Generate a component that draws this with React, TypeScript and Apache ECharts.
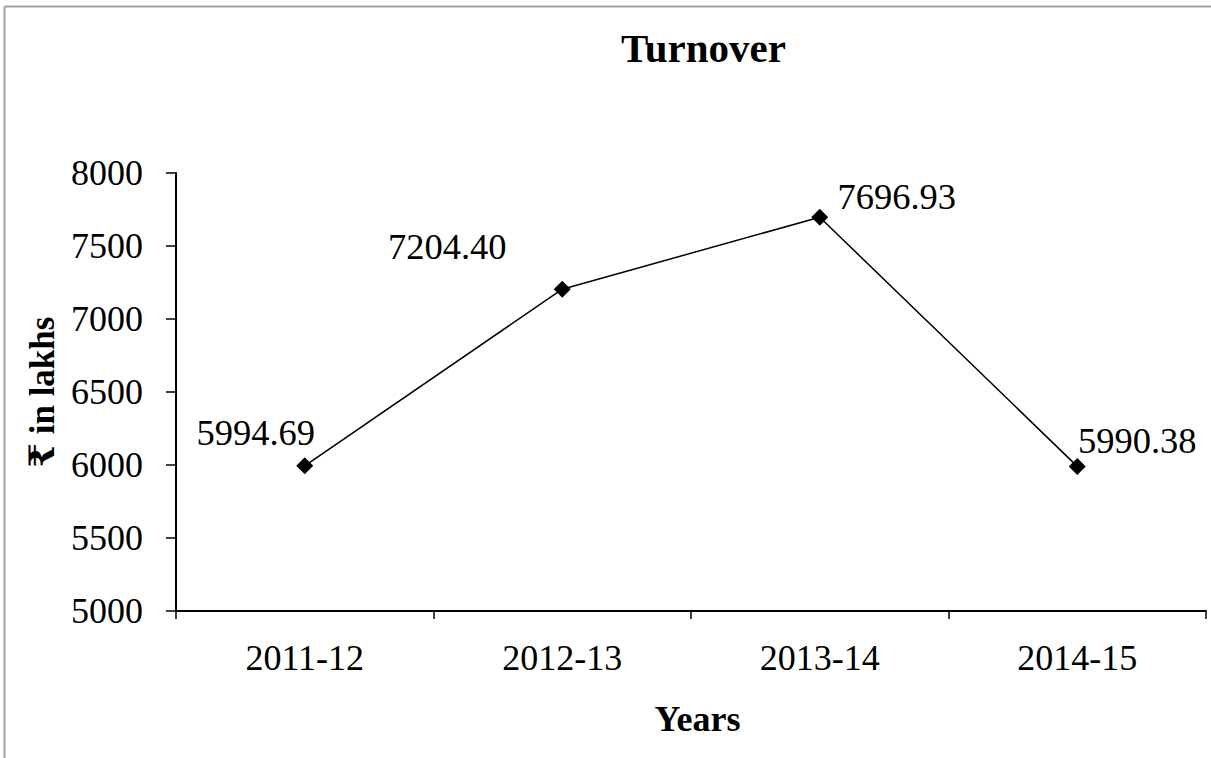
import React, { useEffect, useRef } from "react";
import * as echarts from "echarts";

const categories = ["2011-12", "2012-13", "2013-14", "2014-15"];
const turnover = [5994.69, 7204.4, 7696.93, 5990.38];
const labelTexts = ["5994.69", "7204.40", "7696.93", "5990.38"];
const labelOffsets = [
  [-49, -33],
  [-115, -43],
  [77, -21],
  [60, -26],
];

const FONT = "'Liberation Serif', 'Times New Roman', 'DejaVu Serif', serif";

export default function App() {
  const ref = useRef<HTMLDivElement>(null);
  useEffect(() => {
    document.body.style.margin = "0";
    const chart = echarts.init(ref.current!, null, { renderer: "svg" });
    chart.setOption({
      animation: false,
      backgroundColor: "#ffffff",
      textStyle: { fontFamily: FONT, color: "#000" },
      graphic: [
        {
          type: "line",
          shape: { x1: 4.5, y1: 6.5, x2: 1211, y2: 6.5 },
          style: { stroke: "#a0a0a0", lineWidth: 2 },
        },
        {
          type: "line",
          shape: { x1: 4.5, y1: 6.5, x2: 4.5, y2: 758 },
          style: { stroke: "#a0a0a0", lineWidth: 2 },
        },
        {
          type: "text",
          x: 703.5,
          y: 48,
          style: {
            text: "Turnover",
            fontFamily: FONT,
            fontSize: 41,
            fontWeight: "bold",
            fill: "#000",
            align: "center",
            verticalAlign: "middle",
          },
        },
      ],
      grid: { left: 176, right: 5, top: 173, bottom: 147 },
      xAxis: {
        type: "category",
        data: categories,
        boundaryGap: true,
        name: "Years",
        nameLocation: "middle",
        nameGap: 90,
        nameTextStyle: {
          fontFamily: FONT,
          fontSize: 36,
          fontWeight: "bold",
          color: "#000",
          padding: [0, 0, 0, 13],
        },
        axisLine: { lineStyle: { color: "#000", width: 2 } },
        axisTick: { show: true, length: 8, lineStyle: { color: "#000", width: 1.5 } },
        axisLabel: { fontFamily: FONT, fontSize: 36, color: "#000", margin: 29 },
        splitLine: { show: false },
      },
      yAxis: {
        type: "value",
        min: 5000,
        max: 8000,
        interval: 500,
        name: "₹ in lakhs",
        nameLocation: "middle",
        nameGap: 93,
        nameTextStyle: {
          fontFamily: FONT,
          fontSize: 35,
          fontWeight: "bold",
          color: "#000",
        },
        axisLine: { show: true, lineStyle: { color: "#000", width: 2 } },
        axisTick: { show: true, length: 10, lineStyle: { color: "#000", width: 1.5 } },
        axisLabel: {
          fontFamily: FONT,
          fontSize: 36,
          color: "#000",
          margin: 33,
          formatter: (v: number) => String(v),
        },
        splitLine: { show: false },
      },
      series: [
        {
          type: "line",
          data: turnover.map((v, i) => ({
            value: v,
            label: {
              show: true,
              position: "inside",
              offset: labelOffsets[i],
              formatter: labelTexts[i],
              fontFamily: FONT,
              fontSize: 36.5,
              color: "#000",
            },
          })),
          symbol: "diamond",
          symbolSize: 17,
          itemStyle: { color: "#000" },
          lineStyle: { color: "#000", width: 1.5 },
        },
      ],
    });
    return () => chart.dispose();
  }, []);
  return <div ref={ref} style={{ width: 1211, height: 758 }} />;
}
